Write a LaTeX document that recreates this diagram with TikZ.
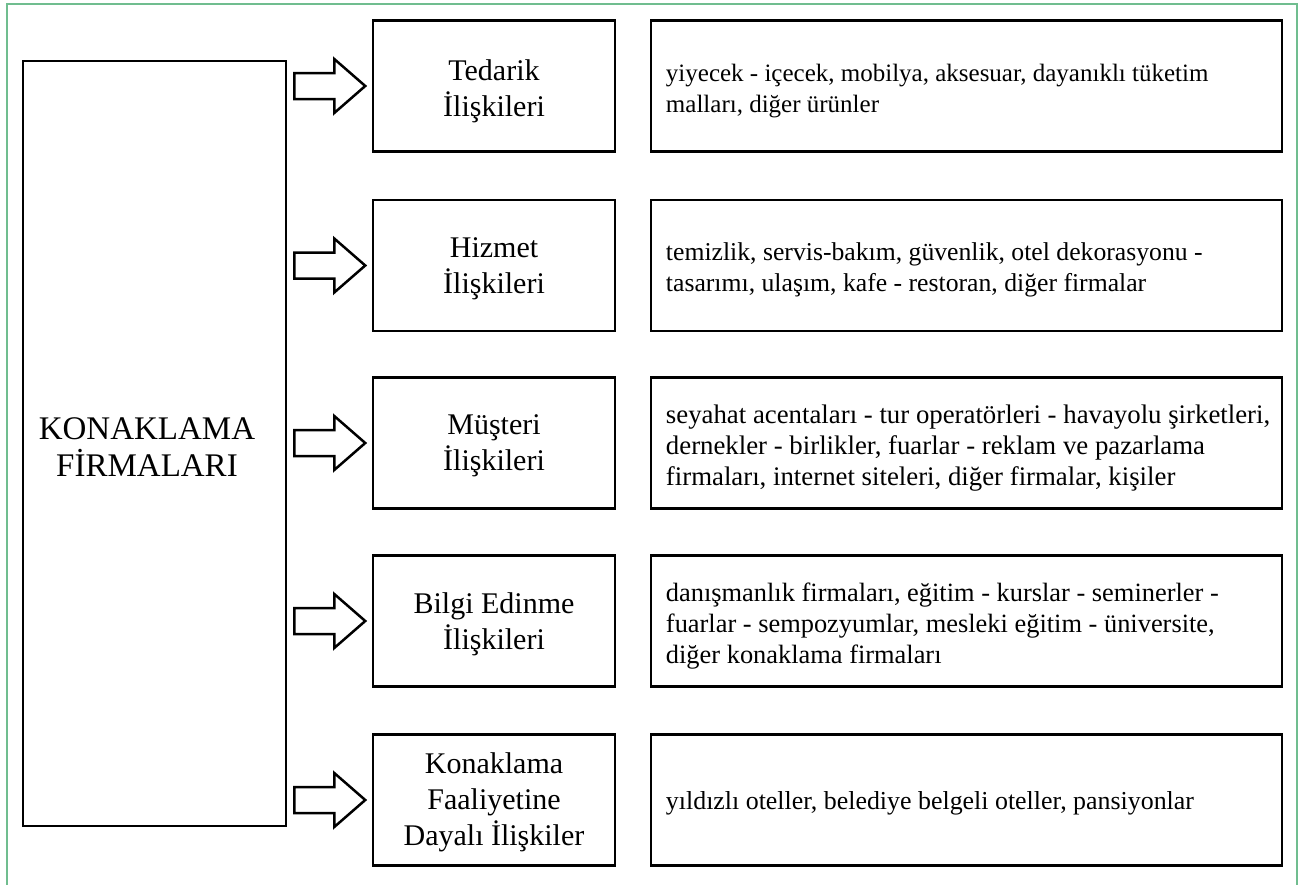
\documentclass[tikz,border=0pt]{standalone}
\usepackage{fontspec}
\setmainfont{Liberation Serif}
\definecolor{framegreen}{RGB}{112,189,143}
\tikzset{
  box/.style={draw=black, line width=2.5pt, rectangle, inner sep=0pt},
  midbox/.style={box, minimum width=242pt, minimum height=131pt},
  midtext/.style={inner sep=0pt, align=center, font=\fontsize{30}{36}\selectfont},
  rightbox/.style={box, minimum width=631pt, minimum height=131pt},
  righttext/.style={inner sep=0pt, anchor=west, align=left, font=\fontsize{#1}{31}\selectfont},
  righttext/.default=25,
  blockarrow/.style={draw=black, line width=2.5pt, fill=white, line join=miter},
}
\begin{document}
\begin{tikzpicture}[x=1pt, y=-1pt]
\useasboundingbox (0,0) rectangle (1303,884);
\draw[framegreen, line width=2pt] (7,890) -- (7,4) -- (1297,4) -- (1297,890);

\node[box, minimum width=263pt, minimum height=765pt] (big) at (154.5,443.5) {};
\node[align=center, inner sep=0pt, font=\fontsize{33}{37}\selectfont] (bigtext) at (147,447) {KONAKLAMA\\FİRMALARI};

\node[midbox] (m1) at (494,86) {};
\node[midbox] (m2) at (494,265.5) {};
\node[midbox] (m3) at (494,443) {};
\node[midbox] (m4) at (494,621) {};
\node[midbox] (m5) at (494,800) {};
\node[midtext] (m1t) at ([yshift=-5pt]m1.center) {Tedarik\\İlişkileri};
\node[midtext] (m2t) at ([yshift=-3pt]m2.center) {Hizmet\\İlişkileri};
\node[midtext] (m3t) at ([yshift=-3pt]m3.center) {Müşteri\\İlişkileri};
\node[midtext] (m4t) at ([yshift=-3pt]m4.center) {Bilgi Edinme\\İlişkileri};
\node[midtext] (m5t) at ([yshift=-2pt]m5.center) {Konaklama\\Faaliyetine\\Dayalı İlişkiler};

\node[rightbox] (r1) at (966.5,86) {};
\node[rightbox] (r2) at (966.5,265.5) {};
\node[rightbox] (r3) at (966.5,443) {};
\node[rightbox] (r4) at (966.5,621) {};
\node[rightbox] (r5) at (966.5,800) {};
\node[righttext=25] (r1t) at ([xshift=16pt,yshift=-5pt]r1.west) {yiyecek - içecek, mobilya, aksesuar, dayanıklı tüketim\\malları, diğer ürünler};
\node[righttext=25.7] (r2t) at ([xshift=16pt,yshift=-4pt]r2.west) {temizlik, servis-bakım, güvenlik, otel dekorasyonu -\\tasarımı, ulaşım, kafe - restoran, diğer firmalar};
\node[righttext=26.8] (r3t) at ([xshift=16pt,yshift=-5pt]r3.west) {seyahat acentaları - tur operatörleri - havayolu şirketleri,\\dernekler - birlikler, fuarlar - reklam ve pazarlama\\firmaları, internet siteleri, diğer firmalar, kişiler};
\node[righttext=26.4] (r4t) at ([xshift=16pt,yshift=-5pt]r4.west) {danışmanlık firmaları, eğitim - kurslar - seminerler -\\fuarlar - sempozyumlar, mesleki eğitim - üniversite,\\diğer konaklama firmaları};
\node[righttext=25.9] (r5t) at ([xshift=16pt,yshift=-3pt]r5.west) {yıldızlı oteller, belediye belgeli oteller, pansiyonlar};

\foreach \i in {1,...,5}{
  \coordinate (s\i) at (big.east |- m\i.west);
  \draw[blockarrow] (s\i) ++(7,-13) -- ++(40,0) -- ++(0,-14) -- ++(31,27) -- ++(-31,27) -- ++(0,-14) -- ++(-40,0) -- cycle;
}
\end{tikzpicture}
\end{document}
